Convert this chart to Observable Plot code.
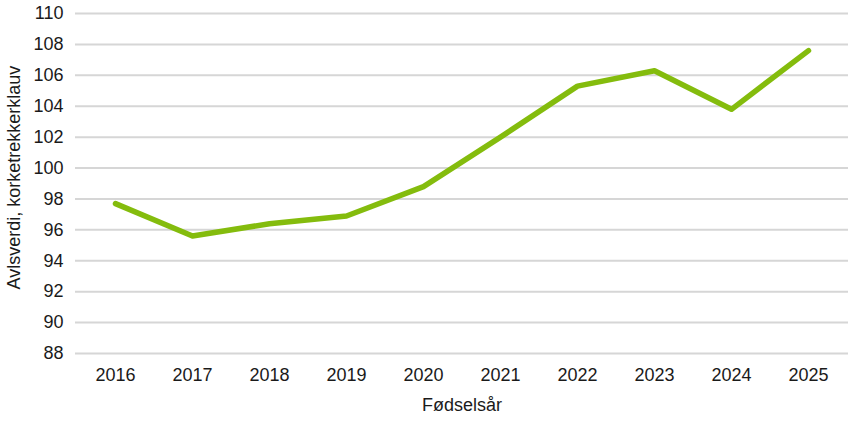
<!DOCTYPE html>
<html>
<head>
<meta charset="utf-8">
<script src="https://cdn.jsdelivr.net/npm/d3@7"></script>
<script src="https://cdn.jsdelivr.net/npm/@observablehq/plot@0.6"></script>
<style>
  html, body { margin: 0; padding: 0; background: #fff; }
  #chart svg { display: block; }
</style>
</head>
<body>
<div id="chart"></div>
<script>
const years = ["2016","2017","2018","2019","2020","2021","2022","2023","2024","2025"];
const values = [97.7, 95.6, 96.4, 96.9, 98.8, 102.0, 105.3, 106.3, 103.8, 107.6];
const yTicks = [88, 90, 92, 94, 96, 98, 100, 102, 104, 106, 108, 110];
const yLabel = "Avlsverdi, korketrekkerklauv";
const xLabel = "Fødselsår";

const data = years.map((y, i) => ({year: y, value: values[i]}));

const chart = Plot.plot({
  width: 848,
  height: 421,
  marginLeft: 75,
  marginRight: 0,
  marginTop: 13,
  marginBottom: 68,
  style: {fontFamily: "'Liberation Sans', Arial, Helvetica, sans-serif", fontSize: "18px", color: "#1a1a1a", background: "#fff"},
  x: {type: "point", domain: years, padding: 0.5},
  y: {domain: [88, 110]},
  marks: [
    Plot.gridY(yTicks, {stroke: "#d6d6d6", strokeOpacity: 1, strokeWidth: 2}),
    Plot.axisY(yTicks, {tickSize: 0, tickPadding: 12, label: null, fontSize: 18}),
    Plot.axisX({tickSize: 0, tickPadding: 15, label: null, fontSize: 18}),
    Plot.line(data, {x: "year", y: "value", stroke: "#84bc0d", strokeWidth: 5.5, strokeLinecap: "round", strokeLinejoin: "round"}),
    Plot.text([yLabel], {frameAnchor: "left", textAnchor: "middle", rotate: -90, dx: -61, dy: -6, fontSize: 18, fill: "#1a1a1a"}),
    Plot.text([xLabel], {frameAnchor: "bottom", dy: 57, fontSize: 18, fill: "#1a1a1a"})
  ]
});
document.getElementById("chart").appendChild(chart);
</script>
</body>
</html>
